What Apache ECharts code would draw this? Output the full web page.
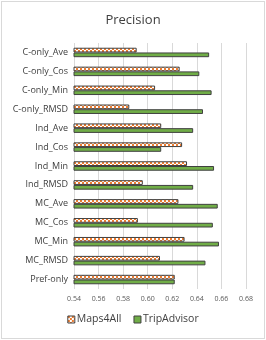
<!DOCTYPE html>
<html><head><meta charset="utf-8">
<script src="https://cdn.jsdelivr.net/npm/echarts@6/dist/echarts.min.js"></script>
<style>
html,body{margin:0;padding:0;background:#fff;}
#wrap{position:absolute;left:1px;top:1px;width:262px;height:336px;border:1px solid #d9d9d9;}
#c{position:absolute;left:0;top:0;width:266px;height:340px;}
</style></head><body>
<div id="wrap"></div>
<div id="c"></div>
<script>
const categories = ['C-only_Ave','C-only_Cos','C-only_Min','C-only_RMSD','Ind_Ave','Ind_Cos','Ind_Min','Ind_RMSD','MC_Ave','MC_Cos','MC_Min','MC_RMSD','Pref-only'];
const maps4All = [0.591,0.626,0.606,0.585,0.611,0.628,0.632,0.596,0.625,0.592,0.630,0.610,0.622];
const tripAdvisor = [0.650,0.642,0.652,0.645,0.637,0.611,0.654,0.637,0.657,0.653,0.658,0.647,0.622];
const xTicks = ['0.54','0.56','0.58','0.60','0.62','0.64','0.66','0.68'];

function makePattern(){
  const cv = document.createElement('canvas');
  cv.width = 4; cv.height = 4;
  const g = cv.getContext('2d');
  g.fillStyle = '#ffffff'; g.fillRect(0,0,4,4);
  g.fillStyle = '#ED7D31';
  g.fillRect(0,0,2,2); g.fillRect(2,2,2,2);
  return cv;
}
const pat = {image: makePattern(), repeat: 'repeat'};

const chart = echarts.init(document.getElementById('c'), null, {renderer:'canvas'});
chart.setOption({
  animation:false,
  title:{text:'Precision', left:'center', top:9, textStyle:{fontFamily:'Open Sans', fontSize:13, fontWeight:'normal', color:'#404040'}},
  grid:{left:74, right:20, top:43, bottom:51},
  legend:{bottom:10, left:'center', icon:'rect', itemWidth:7, itemHeight:7, itemGap:12,
    textStyle:{fontFamily:'Open Sans', fontSize:10.5, color:'#404040', padding:[0,0,0,-3]},
    data:[{name:'Maps4All', itemStyle:{color:pat, borderColor:'#404040', borderWidth:1}},
          {name:'TripAdvisor', itemStyle:{color:'#70AD47', borderColor:'#404040', borderWidth:1}}]},
  xAxis:{type:'value', min:0.54, max:0.68, interval:0.02,
    axisLine:{show:false}, axisTick:{show:false},
    splitLine:{lineStyle:{color:'#d9d9d9'}},
    axisLabel:{fontFamily:'Open Sans', fontSize:7, color:'#595959', margin:6,
      formatter:(v)=>{const i=Math.round((v-0.54)/0.02); return xTicks[i]||'';}}},
  yAxis:{type:'category', data:categories, inverse:true,
    axisLine:{show:false}, axisTick:{show:false},
    axisLabel:{fontFamily:'Open Sans', fontSize:9, color:'#404040', margin:6}},
  series:[
    {name:'Maps4All', type:'bar', data:maps4All, barGap:'0%', barCategoryGap:'50%',
      itemStyle:{color:pat, borderColor:'#404040', borderWidth:1}},
    {name:'TripAdvisor', type:'bar', data:tripAdvisor, barGap:'0%', barCategoryGap:'50%',
      itemStyle:{color:'#70AD47', borderColor:'#404040', borderWidth:1}}
  ]
});
</script></body></html>
